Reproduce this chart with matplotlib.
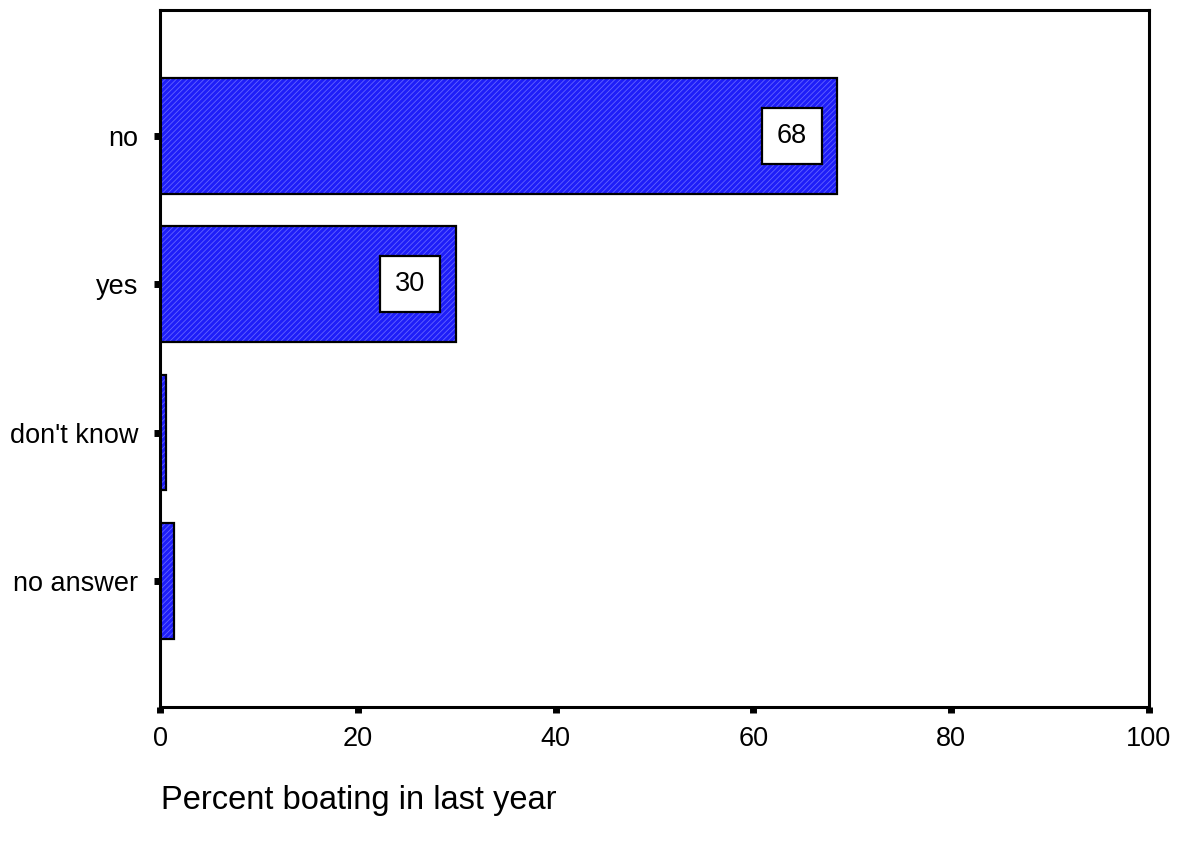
import matplotlib
matplotlib.use("Agg")
import matplotlib.pyplot as plt

plt.rcParams['font.family'] = ['Liberation Sans', 'DejaVu Sans']
plt.rcParams['hatch.linewidth'] = 0.6

categories = ["no", "yes", "don't know", "no answer"]
percents = [68.5, 29.9, 0.6, 1.4]
labels = ["68", "30", "", ""]
x_ticks = [0, 20, 40, 60, 80, 100]

fig = plt.figure(figsize=(11.81, 8.44), dpi=100)
ax = fig.add_axes([0.1355, 0.1623, 0.8374, 0.8259])

pos = list(range(len(categories)))
# hatched blue fill, then black outline on top
ax.barh(pos, percents, height=0.78, color='#1e1ef8', edgecolor='#6464ff',
        linewidth=0, hatch='//////', zorder=2)
ax.barh(pos, percents, height=0.78, fill=False, edgecolor='black',
        linewidth=1.6, zorder=3)

for i, (v, lab) in enumerate(zip(percents, labels)):
    if not lab:
        continue
    ax.annotate(lab, xy=(v, i), xytext=(-33, 0), textcoords='offset points',
                ha='center', va='center', fontsize=19.5, zorder=4,
                bbox=dict(boxstyle='square,pad=0.55', fc='white', ec='black', lw=1.6))

ax.set_xlim(0, 100)
ax.set_ylim(len(categories) - 1 + 0.85, -0.85)
ax.set_xticks(x_ticks)
ax.set_yticks(pos)
ax.set_yticklabels(categories)
ax.tick_params(axis='x', direction='out', length=4, width=5, pad=10, labelsize=19.5)
ax.tick_params(axis='y', direction='out', length=4.5, width=5, pad=11, labelsize=19.5)
for s in ax.spines.values():
    s.set_linewidth(2.2)

fig.text(161 / 1181, 1 - 800 / 844, "Percent boating in last year",
         ha='left', va='center', fontsize=23.5)

fig.savefig("out.png", dpi=100)
